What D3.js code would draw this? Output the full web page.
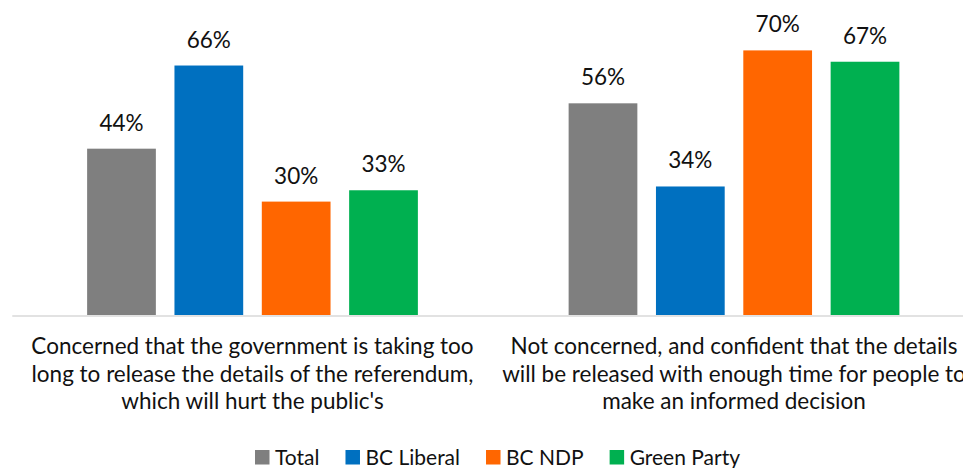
<!DOCTYPE html>
<html>
<head>
<meta charset="utf-8">
<script src="https://cdn.jsdelivr.net/npm/d3@7"></script>
<style>
  html, body { margin: 0; padding: 0; background: #fff; }
  svg { display: block; font-family: Lato, "Noto Sans", sans-serif; }
</style>
</head>
<body>
<svg id="chart" width="963" height="468"></svg>
<script>
// Survey responses by party support
const categories = [
  ["Concerned that the government is taking too", "long to release the details of the referendum,", "which will hurt the public's"],
  ["Not concerned, and confident that the details", "will be released with enough time for people to", "make an informed decision"]
];
const seriesNames = ["Total", "BC Liberal", "BC NDP", "Green Party"];
const seriesColors = ["#7f7f7f", "#0070c0", "#ff6600", "#00b050"];
const total = [44, 56];
const bcLiberal = [66, 34];
const bcNdp = [30, 70];
const greenParty = [33, 67];
const seriesValues = [total, bcLiberal, bcNdp, greenParty];

const svg = d3.select("#chart");
const baseY = 315;
const textColor = "#111";

const catKeys = categories.map((c, i) => i);
const x0 = d3.scaleBand().domain(catKeys).range([11.75, 974.75]).padding(0);
const x1 = d3.scaleBand().domain(seriesNames)
  .range([0, x0.bandwidth()]).paddingInner(0.213).paddingOuter(0.863);
const y = d3.scaleLinear().domain([0, 80]).range([baseY, 12.6]);

// Bars and value labels
catKeys.forEach(ci => {
  const g = svg.append("g").attr("transform", `translate(${x0(ci)},0)`);
  seriesNames.forEach((s, si) => {
    const v = seriesValues[si][ci];
    g.append("rect")
      .attr("x", x1(s))
      .attr("y", y(v))
      .attr("width", x1.bandwidth())
      .attr("height", baseY - y(v))
      .attr("fill", seriesColors[si]);
    g.append("text")
      .attr("x", x1(s) + x1.bandwidth() / 2)
      .attr("y", y(v) - 18)
      .attr("text-anchor", "middle")
      .attr("font-size", 22.5)
      .attr("fill", textColor)
      .text(v + "%");
  });
});

// Category axis
const xAxis = d3.axisBottom(x0).tickSize(0).tickFormat("");
const axisG = svg.append("g").attr("transform", `translate(0,${baseY + 0.5})`).call(xAxis);
axisG.select(".domain").attr("stroke", "#d9d9d9").attr("stroke-width", 1.5);

catKeys.forEach(ci => {
  const cx = x0(ci) + x0.bandwidth() / 2;
  const t = svg.append("text")
    .attr("x", cx)
    .attr("y", 354)
    .attr("text-anchor", "middle")
    .attr("font-size", 22.5)
    .attr("fill", textColor);
  categories[ci].forEach((line, li) => {
    t.append("tspan")
      .attr("x", cx)
      .attr("y", 354 + li * 27.5)
      .text(line);
  });
});

// Legend
const legend = svg.append("g");
let lx = 0;
seriesNames.forEach((s, si) => {
  const item = legend.append("g").attr("transform", `translate(${lx},0)`);
  item.append("rect").attr("x", 0).attr("y", 450).attr("width", 14.5).attr("height", 14.5)
    .attr("fill", seriesColors[si]);
  const t = item.append("text").attr("x", 20).attr("y", 464.5)
    .attr("font-size", 21).attr("fill", textColor).text(s);
  lx += 20 + t.node().getComputedTextLength() + 26;
});
const legendWidth = lx - 26;
legend.attr("transform", `translate(${497.5 - legendWidth / 2},0)`);
</script>
</body>
</html>
